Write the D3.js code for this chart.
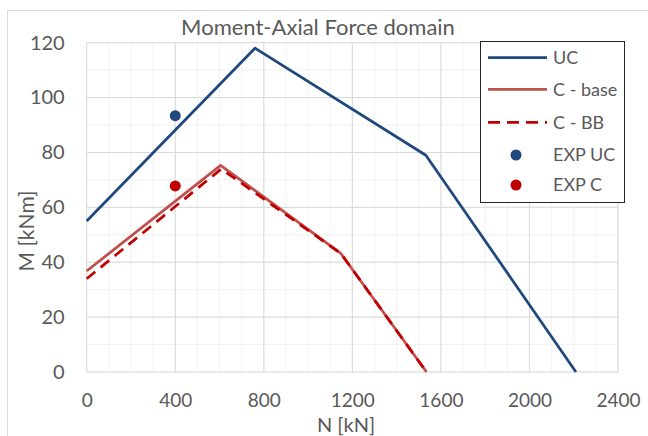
<!DOCTYPE html>
<html><head><meta charset="utf-8">
<script src="https://cdn.jsdelivr.net/npm/d3@7"></script>
<style>
html,body{margin:0;padding:0;background:#fff;}
svg{display:block;font-family:Lato,"Open Sans",sans-serif;}
</style></head>
<body>
<svg id="chart" width="648" height="436"></svg>
<script>
// ---- data ----
const xTicks = [0, 400, 800, 1200, 1600, 2000, 2400];
const yTicks = [0, 20, 40, 60, 80, 100, 120];
const ucN = [0, 760, 1532, 2210];
const ucM = [55, 118, 79, 0];
const cBaseN = [0, 605, 1148, 1535];
const cBaseM = [36.8, 75.3, 43.2, 0];
const cBBN = [0, 608, 1148, 1535];
const cBBM = [34, 74, 43.2, 0];
const expUC = [[400, 93.4]];
const expC = [[400, 67.8]];
const legendLabels = ["UC", "C - base", "C - BB", "EXP UC", "EXP C"];

(function () {
const svg = d3.select("#chart");
const pL = 86.7, pR = 618, pT = 42.7, pB = 372;
const x = d3.scaleLinear().domain([0, 2400]).range([pL, pR]);
const y = d3.scaleLinear().domain([0, 120]).range([pB, pT]);

// outer chart border
svg.append("rect").attr("x", 7.5).attr("y", 10.5).attr("width", 700).attr("height", 500)
  .attr("fill", "#fff").attr("stroke", "#d9d9d9").attr("stroke-width", 1);

// minor gridlines
const minorX = d3.range(0, 2401, 100);
const minorY = d3.range(0, 121, 10);
const g = svg.append("g");
g.selectAll("line.mx").data(minorX).join("line").attr("class", "mx")
  .attr("x1", d => x(d)).attr("x2", d => x(d)).attr("y1", pT).attr("y2", pB)
  .attr("stroke", "#f2f2f2").attr("stroke-width", 1);
g.selectAll("line.my").data(minorY).join("line").attr("class", "my")
  .attr("x1", pL).attr("x2", pR).attr("y1", d => y(d)).attr("y2", d => y(d))
  .attr("stroke", "#f2f2f2").attr("stroke-width", 1);
// major gridlines
g.selectAll("line.Mx").data(xTicks).join("line").attr("class", "Mx")
  .attr("x1", d => x(d)).attr("x2", d => x(d)).attr("y1", pT).attr("y2", pB)
  .attr("stroke", "#d9d9d9").attr("stroke-width", 1);
g.selectAll("line.My").data(yTicks).join("line").attr("class", "My")
  .attr("x1", pL).attr("x2", pR).attr("y1", d => y(d)).attr("y2", d => y(d))
  .attr("stroke", "#d9d9d9").attr("stroke-width", 1);

// axes labels via d3 axes
const xAxis = d3.axisBottom(x).tickValues(xTicks).tickSize(0).tickPadding(21.5).tickFormat(d3.format("d"));
const yAxis = d3.axisLeft(y).tickValues(yTicks).tickSize(0).tickPadding(22).tickFormat(d3.format("d"));
const gx = svg.append("g").attr("transform", `translate(0,${pB})`).call(xAxis);
const gy = svg.append("g").attr("transform", `translate(${pL},0)`).call(yAxis);
[gx, gy].forEach(a => {
  a.select(".domain").remove();
  a.selectAll("text").attr("fill", "#595959").style("font-family", "Lato");
});
gx.selectAll("text").style("font-size", "19px");
gy.selectAll("text").style("font-size", "20px");

// lines
const line = d3.line().x(d => x(d[0])).y(d => y(d[1]));
const zip = (a, b) => a.map((v, i) => [v, b[i]]);
svg.append("path").datum(zip(ucN, ucM)).attr("d", line)
  .attr("fill", "none").attr("stroke", "#1f497d").attr("stroke-width", 2.75).attr("stroke-linejoin", "round");
svg.append("path").datum(zip(cBaseN, cBaseM)).attr("d", line)
  .attr("fill", "none").attr("stroke", "#c0504d").attr("stroke-width", 2.75).attr("stroke-linejoin", "round");
svg.append("path").datum(zip(cBBN, cBBM)).attr("d", line)
  .attr("fill", "none").attr("stroke", "#c00000").attr("stroke-width", 2.75).attr("stroke-dasharray", "11,7");

svg.selectAll("circle.uc").data(expUC).join("circle").attr("class", "uc")
  .attr("cx", d => x(d[0])).attr("cy", d => y(d[1])).attr("r", 5.5).attr("fill", "#1f497d");
svg.selectAll("circle.c").data(expC).join("circle").attr("class", "c")
  .attr("cx", d => x(d[0])).attr("cy", d => y(d[1])).attr("r", 5.5).attr("fill", "#c00000");

// title & axis titles
svg.append("text").attr("x", 318).attr("y", 35).attr("text-anchor", "middle")
  .attr("fill", "#595959").style("font-size", "22px").text("Moment-Axial Force domain");
svg.append("text").attr("x", 346).attr("y", 431.5).attr("text-anchor", "middle")
  .attr("fill", "#595959").style("font-size", "20px").text("N [kN]");
svg.append("text").attr("transform", "translate(34,231) rotate(-90)").attr("text-anchor", "middle")
  .attr("fill", "#595959").style("font-size", "21px").text("M [kNm]");

// legend
const lg = svg.append("g");
lg.append("rect").attr("x", 480.5).attr("y", 41.5).attr("width", 144).attr("height", 161)
  .attr("fill", "#fff").attr("stroke", "#262626").attr("stroke-width", 1);
const rowsY = [57.7, 89.3, 122.3, 155, 185];
const styles = [
  {type: "line", color: "#1f497d", dash: null},
  {type: "line", color: "#c0504d", dash: null},
  {type: "line", color: "#c00000", dash: "12,7"},
  {type: "dot", color: "#1f497d"},
  {type: "dot", color: "#c00000"}
];
legendLabels.forEach((lab, i) => {
  const s = styles[i], yy = rowsY[i];
  if (s.type === "line") {
    lg.append("line").attr("x1", 488).attr("x2", 547).attr("y1", yy).attr("y2", yy)
      .attr("stroke", s.color).attr("stroke-width", 2.75).attr("stroke-dasharray", s.dash);
  } else {
    lg.append("circle").attr("cx", 516).attr("cy", yy).attr("r", 5.5).attr("fill", s.color);
  }
  lg.append("text").attr("x", 553).attr("y", yy).attr("dy", "0.35em")
    .attr("fill", "#595959").style("font-size", "18px").text(lab);
});
})();
</script>
</body></html>
